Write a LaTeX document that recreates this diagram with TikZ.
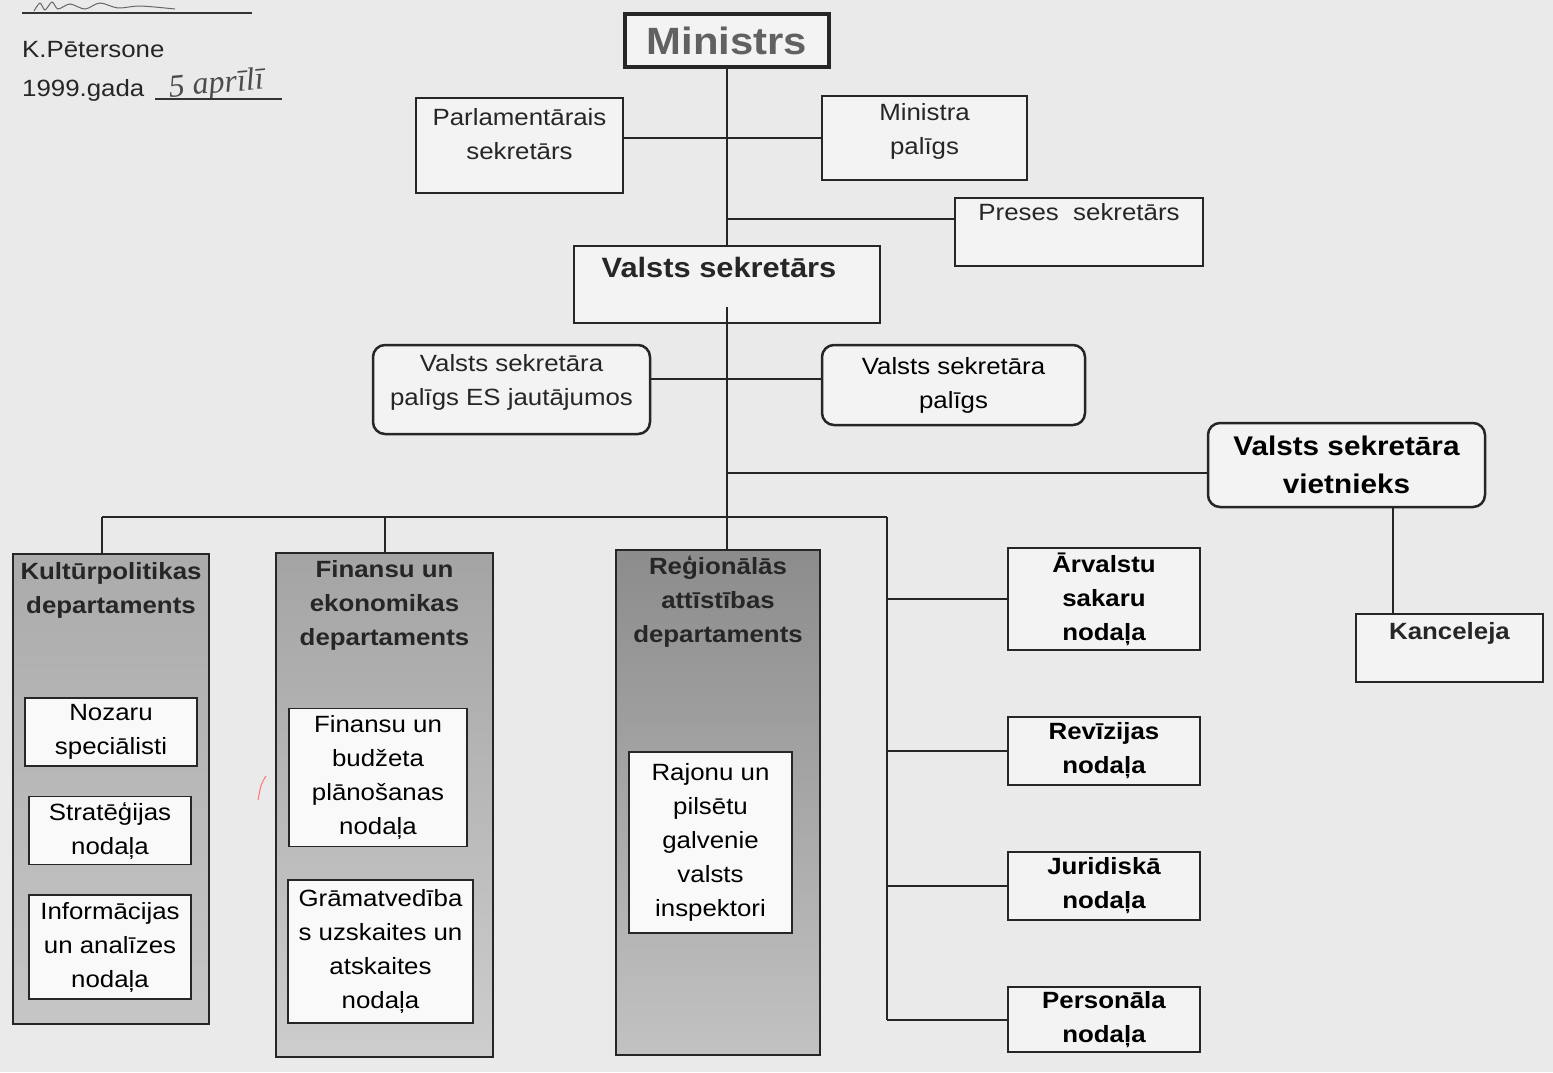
\documentclass[tikz,border=0pt]{standalone}
\usepackage{fontspec}
\setmainfont{Liberation Sans}[FakeStretch=1.1]
\newfontfamily\handfont{Liberation Serif}
\usepackage{xcolor}
\usepackage{tikz}
\usetikzlibrary{positioning}

\definecolor{paper}{HTML}{EAEAEA}
\definecolor{kultTop}{HTML}{ABABAB}
\definecolor{kultBot}{HTML}{C6C6C6}
\definecolor{finTop}{HTML}{A4A4A4}
\definecolor{finBot}{HTML}{CDCDCD}
\definecolor{regTop}{HTML}{8C8C8C}
\definecolor{regBot}{HTML}{C2C2C2}

\newcommand\txt{\fontsize{23.5}{34}\selectfont}

\begin{document}
\begin{tikzpicture}[x=1pt,y=-1pt,
  wh/.style 2 args={minimum width=#1pt,minimum height=#2pt},
  box/.style={draw=black!85,line width=2pt,fill=white!45!paper,inner sep=0pt,
    align=center,font=\txt},
  rbox/.style={box,rounded corners=12pt,line width=2.5pt},
  subbox/.style={box,line width=1.6pt,fill=white!70!paper},
  dept/.style={draw=black!85,line width=2pt,inner sep=0pt},
  title/.style={inner sep=0pt,align=center,font=\txt\bfseries,text=black!85},
  plain/.style={inner sep=0pt,align=center,font=\txt,text=black!85},
  hand/.style={inner sep=0pt,font=\handfont\itshape\fontsize{32}{32}\selectfont,
    text=black!70},
  link/.style={draw=black!85,line width=2pt}]
\useasboundingbox[fill=paper] (0,0) rectangle (1553,1072);
% ---------- approval block ----------
\draw[black!60,line width=1pt] plot[smooth] coordinates
  {(34,11) (40,3) (45,10) (52,2) (58,9) (70,4) (85,9) (100,3) (118,8) (140,6) (175,9)};
\draw[black!80,line width=1.4pt] (22,13) -- (252,13);
\node[plain,anchor=west] (name) at (22,50) {K.Pētersone};
\node[plain,anchor=west] (year) at (22,90) {1999.gada};
\node[hand,rotate=5,anchor=south west] (date) at (170,104) {5 aprīlī};
\draw[black!80,line width=1.4pt] (155,99) -- (282,99);
% ---------- minister and staff ----------
\node[box,wh={204}{53},line width=3.5pt,font=\fontsize{38}{40}\selectfont\bfseries,
  text=black!62] (min) at (727,40.5) {Ministrs};
\node[box,wh={207}{95}] (parl) at (519.5,145.5) {};
\node[plain] (parlT) at (519.5,134) {Parlamentārais\\sekretārs};
\node[box,wh={205}{84}] (minpal) at (924.5,138) {};
\node[plain] (minpalT) at (924.5,131) {Ministra\\palīgs};
\node[box,wh={248}{68}] (preses) at (1079,231.5) {};
\node[plain,below=7pt of preses.north] (presesT) {Preses\ \ sekretārs};
\node[box,wh={306}{77},line width=2.5pt] (vsek) at (727,284.5) {};
\node[title,below=12pt of vsek.north,xshift=-8pt,font=\fontsize{28}{30}\selectfont\bfseries]
  (vsekT) {Valsts sekretārs};
% ---------- secretary's assistants and deputy ----------
\node[rbox,wh={277}{89}] (es) at (511.5,389.5) {};
\node[plain] (esT) at (511.5,382) {Valsts sekretāra\\palīgs ES jautājumos};
\node[rbox,wh={263}{80}] (secpal) at (953.5,385) {Valsts sekretāra\\palīgs};
\node[rbox,wh={277}{84},font=\fontsize{27}{38}\selectfont\bfseries]
  (viet) at (1346.5,465) {Valsts sekretāra\\vietnieks};
\node[box,wh={187}{68}] (kanc) at (1449.5,648) {};
\node[title,below=9pt of kanc.north] (kancT) {Kanceleja};
% ---------- departments ----------
\node[dept,wh={196}{470},top color=kultTop,bottom color=kultBot] (kult) at (111,789) {};
\node[title,below=9pt of kult.north] (kultT) {Kultūrpolitikas\\departaments};
\node[subbox,wh={172}{68}] (noz) at (111,732) {Nozaru\\speciālisti};
\node[subbox,wh={162}{68}] (strat) at (110,830.5) {Stratēģijas\\nodaļa};
\node[subbox,wh={162}{104}] (info) at (110,947) {Informācijas\\un analīzes\\nodaļa};
\node[dept,wh={217}{504},top color=finTop,bottom color=finBot] (fin) at (384.5,805) {};
\node[title,below=8pt of fin.north] (finT) {Finansu un\\ekonomikas\\departaments};
\node[subbox,wh={178}{138}] (budz) at (378,777.5) {Finansu un\\budžeta\\plānošanas\\nodaļa};
\node[subbox,wh={185}{143}] (gram) at (380.5,951.5)
  {Grāmatvedība\\s uzskaites un\\atskaites\\nodaļa};
\node[dept,wh={204}{505},top color=regTop,bottom color=regBot] (reg) at (718,802.5) {};
\node[title,below=7pt of reg.north] (regT) {Reģionālās\\attīstības\\departaments};
\node[subbox,wh={163}{181}] (raj) at (710.5,842.5)
  {Rajonu un\\pilsētu\\galvenie\\valsts\\inspektori};
\draw[red!55,line width=1pt] (266,776) .. controls (261,784) .. (258,800);
% ---------- units ----------
\node[box,wh={192}{102},font=\txt\bfseries] (arv) at (1104,599) {Ārvalstu\\sakaru\\nodaļa};
\node[box,wh={192}{68},font=\txt\bfseries] (rev) at (1104,751) {Revīzijas\\nodaļa};
\node[box,wh={192}{68},font=\txt\bfseries] (jur) at (1104,886) {Juridiskā\\nodaļa};
\node[box,wh={192}{65},font=\txt\bfseries] (pers) at (1104,1019.5) {Personāla\\nodaļa};
% ---------- links ----------
\coordinate (preslink) at ([yshift=13pt]preses.west);
\coordinate (vsin) at ([yshift=-22pt]vsek.center);
\coordinate (palink) at ([yshift=6pt]secpal.west);
\coordinate (vlink) at ([yshift=-8pt]viet.west);
\coordinate (klink) at (1393,0);
\coordinate (busL) at (102,517);
\coordinate (busR) at (887,517);
\draw[link] (min.south) -- (min.south |- vsek.north);
\draw[link] (parl.east |- minpal.west) -- (minpal.west);
\draw[link] (min.south |- preslink) -- (preslink);
\draw[link] (vsin) -- (vsin |- reg.north);
\draw[link] (es.east |- palink) -- (palink);
\draw[link] (vsin |- vlink) -- (vlink);
\draw[link] (viet.south -| klink) -- (kanc.north -| klink);
\draw[link] (busL) -- (busR);
\draw[link] (busL) -- (busL |- kult.north);
\draw[link] (fin.north |- busL) -- (fin.north);
\draw[link] (busR) -- (busR |- pers.west);
\foreach \u in {arv,rev,jur,pers} {\draw[link] (busR |- \u.west) -- (\u.west);}
\end{tikzpicture}
\end{document}
